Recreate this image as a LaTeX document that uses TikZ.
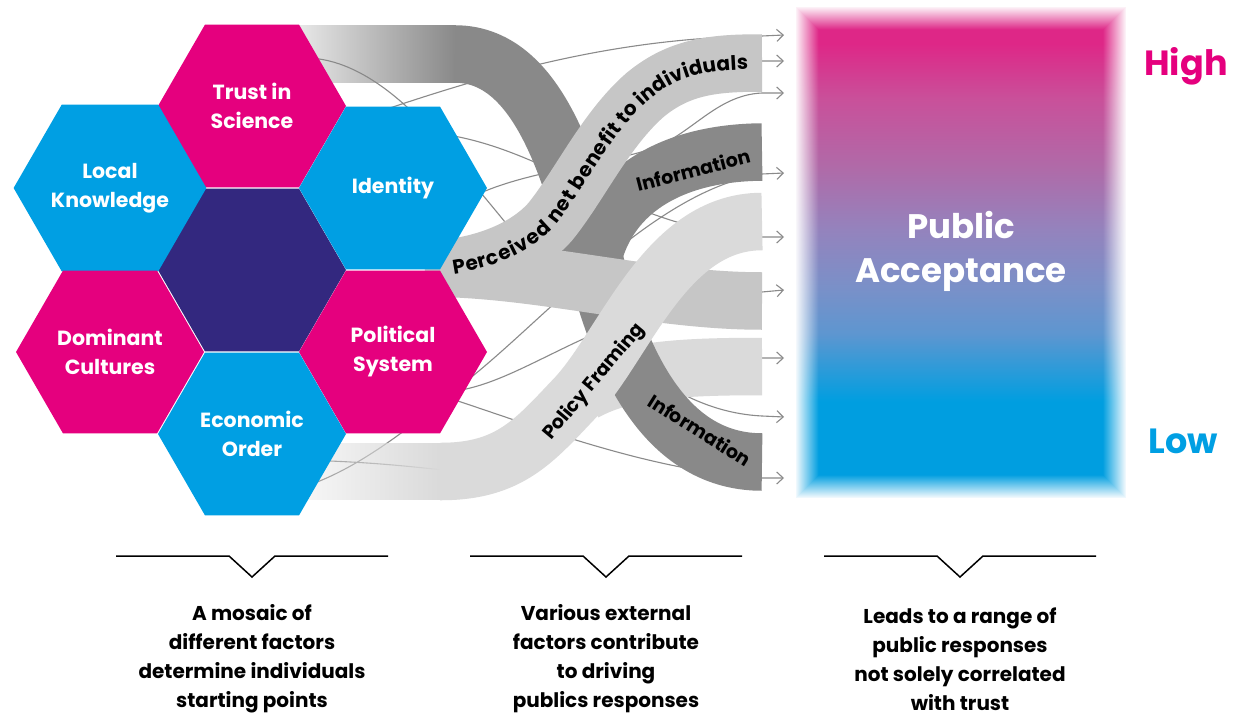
\documentclass[tikz,border=0pt]{standalone}
\usepackage{fontspec}
\newfontfamily\pop{Poppins}
\usetikzlibrary{shapes.geometric,arrows.meta,decorations.text,fadings}
\definecolor{mag}{HTML}{E5007E}
\definecolor{cya}{HTML}{009FE3}
\definecolor{pur}{HTML}{33287F}
\definecolor{dkg}{HTML}{898989}
\definecolor{mdg}{HTML}{C6C6C6}
\definecolor{ltg}{HTML}{DADADA}
\definecolor{lng}{HTML}{8A8A8A}
\definecolor{pa0}{HTML}{009EE0}
\definecolor{pa1}{HTML}{2A9BD9}
\definecolor{pa2}{HTML}{5E96D0}
\definecolor{pa3}{HTML}{7A90C8}
\definecolor{pa4}{HTML}{9483BD}
\definecolor{pa5}{HTML}{B06AA8}
\definecolor{pa6}{HTML}{C9509A}
\definecolor{pa7}{HTML}{DE2787}
\tikzfading[name=fadein, left color=transparent!80, right color=transparent!0]
\pgfdeclareverticalshading{pashade}{100bp}{color(0bp)=(pa0); color(34.9bp)=(pa0); color(38bp)=(pa1); color(41.8bp)=(pa2); color(46.5bp)=(pa3); color(52.3bp)=(pa4); color(58.7bp)=(pa5); color(65.6bp)=(pa6); color(71.2bp)=(pa7); color(100bp)=(pa7)}
\begin{document}
\begin{tikzpicture}[x=1pt,y=-1pt,
  hexn/.style={regular polygon, regular polygon sides=6, minimum size=188pt, inner sep=0pt, draw=none,
    font=\pop\bfseries\fontsize{20.5}{29}\selectfont, text=white, align=center},
  riblab/.style={font=\pop\bfseries\fontsize{19}{22}\selectfont, text=black},
  capt/.style={font=\pop\bfseries\fontsize{20}{29}\selectfont, align=center, text=black},
  conn/.style={draw=lng, line width=1.1pt, -{Straight Barb[length=6.5pt,width=12pt]}},
  ribbon/.style={line width=57.5pt},
  bracketline/.style={draw=black, line width=1.5pt}]
\useasboundingbox (0,0) rectangle (1233,717);
\fill[white] (0,0) rectangle (1233,717);

% ---------- start / end coordinates of the thin connectors
\coordinate (s1) at (340,125);  \coordinate (e1) at (784,35);
\coordinate (s9) at (430,270);  \coordinate (e9) at (784,61);
\coordinate (s3) at (470,198);  \coordinate (e3) at (784,93);
\coordinate (s5) at (300,488);  \coordinate (e5) at (784,173);
\coordinate (s2) at (420,132);  \coordinate (e2) at (784,237);
\coordinate (s7) at (440,392);  \coordinate (e7) at (784,290);
\coordinate (s6) at (300,460);  \coordinate (e6) at (784,358);
\coordinate (s4) at (300,58);   \coordinate (e4) at (784,417);
\coordinate (s8) at (430,392);  \coordinate (e8) at (784,478);

% ---------- thin connectors (below the ribbons)
\draw[conn] (s1) .. controls (470,80) and (600,38) .. (762,36) -- (e1);
\draw[conn] (s9) .. controls (480,268) and (525,250) .. (550,222) .. controls (580,185) and (605,130) .. (645,95) .. controls (680,66) and (715,61) .. (762,61) -- (e9);
\draw[conn] (s3) .. controls (520,172) and (600,165) .. (648,150) .. controls (690,137) and (715,95) .. (762,93) -- (e3);
\draw[conn] (s5) .. controls (360,470) and (420,420) .. (480,370) .. controls (560,303) and (660,190) .. (762,174) -- (e5);
\draw[conn] (s2) .. controls (540,138) and (620,230) .. (762,237) -- (e2);
\draw[conn] (s7) .. controls (520,392) and (600,300) .. (762,292) -- (e7);
\draw[conn] (s6) .. controls (380,462) and (420,468) .. (445,470) .. controls (505,470) and (540,445) .. (578,402) .. controls (620,372) and (680,360) .. (762,358) -- (e6);
\draw[conn] (s4) .. controls (360,55) and (420,110) .. (470,180) .. controls (560,285) and (640,410) .. (762,416) -- (e4);
\draw[conn] (s8) .. controls (520,420) and (640,470) .. (762,478) -- (e8);

% ---------- ribbons
\fill[ltg, path fading=fadein] (300,443) rectangle (441,500);
\draw[ltg, ribbon] (585,392) .. controls (625,370) and (680,366.5) .. (762,366.5);
\fill[dkg, path fading=fadein] (300,25) rectangle (456,83);
\draw[dkg, ribbon] (455,54) .. controls (545,54) and (575,190) .. (600,280) .. controls (630,390) and (680,462) .. (762,462);
\draw[dkg, ribbon] (592,262) .. controls (605,200) and (660,153) .. (762,152);
\draw[mdg, ribbon] (425,268) .. controls (540,268) and (650,301) .. (762,301);
\draw[mdg, ribbon] (425,270) .. controls (480,268) and (525,250) .. (550,222) .. controls (580,185) and (605,130) .. (645,95) .. controls (680,66) and (715,63) .. (762,63);
\draw[ltg, ribbon] (440,471.5) -- (441,471.5) .. controls (510,471.5) and (535,440) .. (575,398) .. controls (625,345) and (665,221.5) .. (762,221.5);

% ---------- ribbon labels
\path[decorate, decoration={text along path, raise=-6.5pt,
  text align={fit to path, left indent=28pt, right indent=14pt},
  text={|\pop\bfseries\fontsize{20}{22}\selectfont|Perceived net benefit to individuals}}]
  (425,270) .. controls (480,268) and (525,250) .. (550,222) .. controls (580,185) and (605,130) .. (645,95) .. controls (680,66) and (715,63) .. (762,63);
\node[riblab, rotate=14.5] (info1) at (693,170) {Information};
\node[riblab, rotate=-32] (info2) at (700,430) {Information};
\node[riblab, rotate=50] (pf) at (594,382) {Policy Framing};

% ---------- hexagons
\node[hexn, fill=pur] (core) at (252,270) {};
\node[hexn, fill=mag] (trust) at (252,106) {Trust in\\Science};
\node[hexn, fill=cya] (local) at (110,188) {Local\\Knowledge};
\node[hexn, fill=cya] (ident) at (393,188) {Identity};
\node[hexn, fill=mag] (domin) at (110,352) {Dominant\\Cultures};
\node[hexn, fill=mag] (polit) at (393,352) {Political\\System};
\node[hexn, fill=cya] (econ) at (252,434) {Economic\\Order};

% ---------- public acceptance box with soft edge
\shade[shading=pashade] (795,6) rectangle (1127,499);
\foreach \i in {0,...,23}{
  \pgfmathsetmacro\op{1-(\i+0.5)/24}
  \draw[white, line width=1.3pt, opacity=\op] (795.5+\i,6.5+\i) rectangle (1126.5-\i,498.5-\i);
}
\draw[white, line width=2pt] (795,6) rectangle (1127,499);
\node[font=\pop\bfseries\fontsize{34}{44}\selectfont, text=white, align=center] (pa) at (961,251) {Public\\Acceptance};
\node[font=\pop\bfseries\fontsize{35}{40}\selectfont, text=mag] (high) at (1186,66) {High};
\node[font=\pop\bfseries\fontsize{35}{40}\selectfont, text=cya] (low) at (1183,441) {Low};

% ---------- brackets and captions
\draw[bracketline] (116,556) -- (229,556) -- (252,577) -- (275,556) -- (388,556);
\draw[bracketline] (470,556) -- (583,556) -- (606,577) -- (629,556) -- (742,556);
\draw[bracketline] (824,556) -- (937,556) -- (960,577) -- (983,556) -- (1096,556);
\node[capt] (cap1) at (252,659) {A mosaic of\\different factors\\determine individuals\\starting points};
\node[capt] (cap2) at (606,659) {Various external\\factors contribute\\to driving\\publics responses};
\node[capt] (cap3) at (960,659) {Leads to a range of\\public responses\\not solely correlated\\with trust};
\end{tikzpicture}
\end{document}
